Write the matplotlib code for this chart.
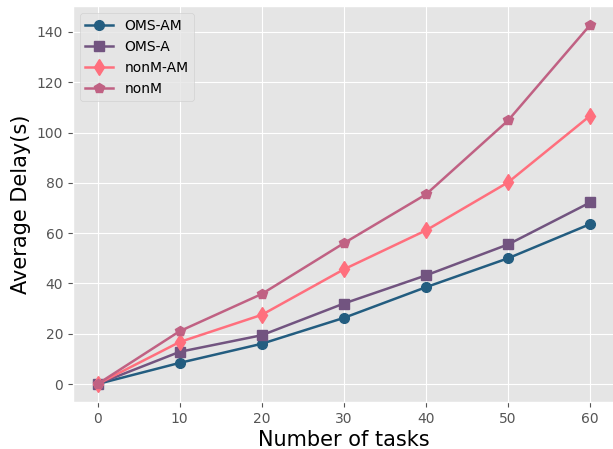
import matplotlib
matplotlib.use("Agg")
import matplotlib.pyplot as plt

plt.style.use("ggplot")

tasks = [0, 10, 20, 30, 40, 50, 60]
oms_am = [0, 8.4, 16, 26.3, 38.5, 50, 63.6]
oms_a = [0, 12.8, 19.4, 32, 43.2, 55.5, 72.2]
nonm_am = [0, 16.7, 27.5, 45.6, 61.1, 80.2, 106.7]
nonm = [0, 21, 35.8, 56, 75.4, 104.8, 142.8]

fig = plt.figure(figsize=(6.13, 4.49), dpi=100)
ax = fig.add_axes([0.119, 0.105, 0.884, 0.881])

ax.plot(tasks, oms_am, color="#235d80", marker="o", markersize=7, linewidth=1.8, label="OMS-AM")
ax.plot(tasks, oms_a, color="#725480", marker="s", markersize=7, linewidth=1.8, label="OMS-A")
ax.plot(tasks, nonm_am, color="#ff6f7d", marker="d", markersize=8, linewidth=1.8, label="nonM-AM")
ax.plot(tasks, nonm, color="#c06183", marker="p", markersize=7, linewidth=1.8, label="nonM")

ax.set_xlabel("Number of tasks", fontsize=15, color="black", labelpad=3)
ax.set_ylabel("Average Delay(s)", fontsize=15, color="black")
ax.tick_params(labelsize=10)
ax.set_xlim(-3, 63)
ax.set_ylim(-7.1, 150.2)
ax.legend(loc="upper left", fontsize=10)

fig.savefig("out.png", dpi=100)
